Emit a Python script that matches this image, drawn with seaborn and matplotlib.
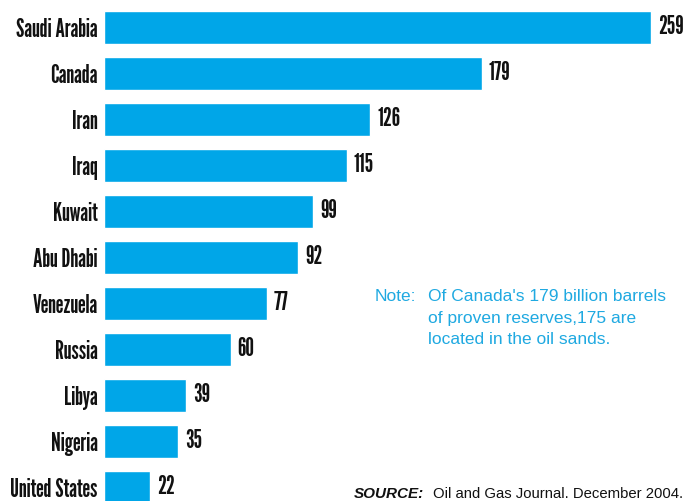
import matplotlib
matplotlib.use("Agg")
import matplotlib.pyplot as plt
import seaborn as sns
import pandas as pd

countries = ["Saudi Arabia", "Canada", "Iran", "Iraq", "Kuwait", "Abu Dhabi",
             "Venezuela", "Russia", "Libya", "Nigeria", "United States"]
reserves = [259, 179, 126, 115, 99, 92, 77, 60, 39, 35, 22]

note_label = "Note:"
note_text = "Of Canada's 179 billion barrels\nof proven reserves,175 are\nlocated in the oil sands."
source_label = "SOURCE:"
source_text = "Oil and Gas Journal. December 2004."

df = pd.DataFrame({"country": countries, "reserves": reserves})

sns.set_theme(style="white")
cond = ["League Gothic", "Fjalla One", "DejaVu Sans"]
reg = ["Liberation Sans", "DejaVu Sans"]
plt.rcParams["font.family"] = cond

W, H = 685, 501
fig = plt.figure(figsize=(W / 100, H / 100), dpi=100)

# fit condensed label font so "Saudi Arabia" is ~81 px wide
r = fig.canvas.get_renderer()
probe = fig.text(0, 0, countries[0], fontsize=16, fontweight="bold", family=cond)
w = probe.get_window_extent(renderer=r).width
probe.remove()
fs = 16 * 81 / w

ax = fig.add_axes([104 / W, 0, 1 - 104 / W, 1])

bar_color = "#00A6E8"
sns.barplot(data=df, x="reserves", y="country", orient="h", color=bar_color,
            saturation=1, width=0.72, ax=ax)

ax.set_xlim(0, (W - 104) / 2.112)
ax.set_ylim(10 + (H - 487.5) / 46, -27.5 / 46)
ax.set_xlabel("")
ax.set_ylabel("")
ax.set_xticks([])
for s in ax.spines.values():
    s.set_visible(False)
ax.tick_params(axis="y", length=0, pad=4.5)
for lbl in ax.get_yticklabels():
    lbl.set_fontsize(fs)
    lbl.set_fontweight("bold")
    lbl.set_family(cond)
    lbl.set_color("#111111")

ax.bar_label(ax.containers[0], labels=[str(v) for v in reserves], padding=5,
             fontsize=fs, fontweight="bold", family=cond, color="#111111")

note_color = "#1FA9E1"
fig.text(375 / W, 1 - 289 / H, note_label, fontsize=12.5, color=note_color,
         family=reg, va="top", ha="left")
fig.text(428 / W, 1 - 289 / H, note_text, fontsize=12.5, color=note_color,
         family=reg, va="top", ha="left", linespacing=1.55)

fig.text(354 / W, 1 - 498 / H, source_label, fontsize=11, color="#111111",
         family=reg, fontweight="bold", fontstyle="italic", va="baseline", ha="left")
fig.text(683 / W, 1 - 498 / H, source_text, fontsize=10.7, color="#111111",
         family=reg, va="baseline", ha="right")

fig.savefig("out.png", dpi=100)
